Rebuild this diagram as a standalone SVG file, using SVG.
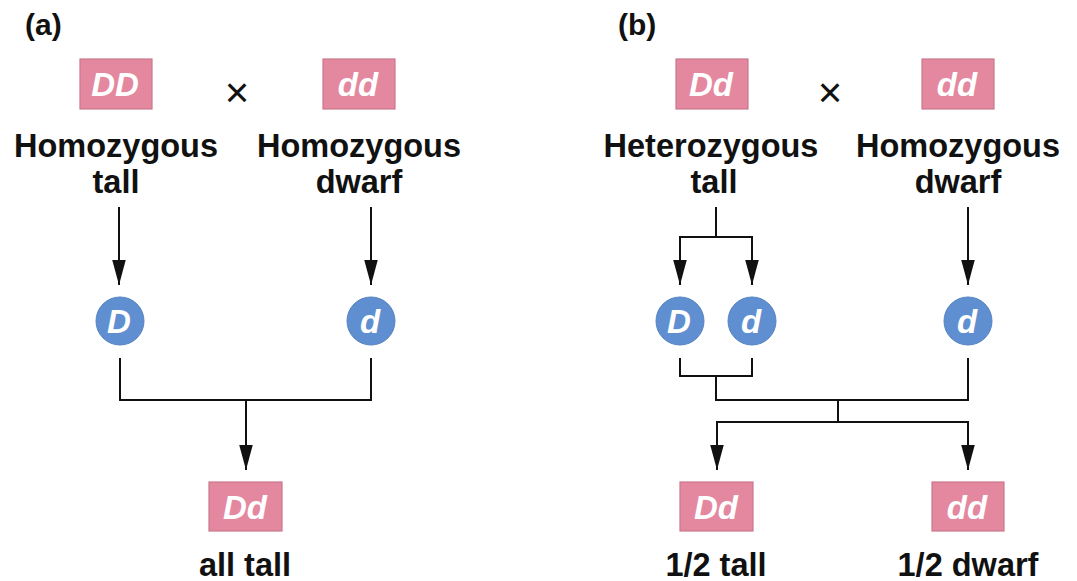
<svg xmlns="http://www.w3.org/2000/svg" width="1077" height="581" viewBox="0 0 1077 581">
  <style>
    .geno { fill: #e4889f; stroke: #c9788c; stroke-width: 1.2; }
    .allele { fill: #5f8fd0; stroke: #5583c2; stroke-width: 1; }
    .gtxt { font-family: "Liberation Sans", Arial, sans-serif; font-weight: bold; font-style: italic; font-size: 33px; fill: #ffffff; text-anchor: middle; }
    .label { font-family: "Liberation Sans", Arial, sans-serif; font-weight: bold; font-size: 32.5px; fill: #111111; text-anchor: middle; }
    .panel { font-family: "Liberation Sans", Arial, sans-serif; font-weight: bold; font-size: 30px; fill: #111111; }
    .cross { font-family: "Liberation Sans", Arial, sans-serif; font-size: 42px; fill: #111111; text-anchor: middle; }
    .wire { fill: none; stroke: #111111; stroke-width: 2; }
  </style>
  <defs>
    <marker id="head" markerUnits="userSpaceOnUse" markerWidth="26" markerHeight="16" viewBox="0 -7 25 14" refX="24" refY="0" orient="auto">
      <path d="M0,-6.5 L24,0 L0,6.5 z" fill="#111111"/>
    </marker>
  </defs>

  <rect width="1077" height="581" fill="#ffffff"/>

  <!-- panel (a) -->
  <text class="panel" x="25" y="35">(a)</text>
  <g id="a-parent1">
    <rect class="geno" x="80" y="59" width="72" height="50"/>
    <text class="gtxt" x="115" y="96">DD</text>
    <text class="label" x="116" y="157">Homozygous</text>
    <text class="label" x="116" y="193">tall</text>
  </g>
  <text class="cross" x="237" y="107">×</text>
  <g id="a-parent2">
    <rect class="geno" x="323" y="59" width="72" height="50"/>
    <text class="gtxt" x="358" y="96">dd</text>
    <text class="label" x="359" y="157">Homozygous</text>
    <text class="label" x="359" y="193">dwarf</text>
  </g>
  <g id="a-gamete-D">
    <circle class="allele" cx="120" cy="321" r="24"/>
    <text class="gtxt" x="119" y="333">D</text>
  </g>
  <g id="a-gamete-d">
    <circle class="allele" cx="371" cy="321" r="24"/>
    <text class="gtxt" x="370" y="333">d</text>
  </g>
  <g id="a-offspring">
    <rect class="geno" x="209" y="482" width="73" height="49"/>
    <text class="gtxt" x="245" y="519">Dd</text>
    <text class="label" x="245" y="576">all tall</text>
  </g>

  <!-- panel (b) -->
  <text class="panel" x="618" y="35">(b)</text>
  <g id="b-parent1">
    <rect class="geno" x="676" y="59" width="72" height="50"/>
    <text class="gtxt" x="711" y="96">Dd</text>
    <text class="label" x="711" y="157">Heterozygous</text>
    <text class="label" x="714" y="193">tall</text>
  </g>
  <text class="cross" x="830" y="107">×</text>
  <g id="b-parent2">
    <rect class="geno" x="922" y="59" width="72" height="50"/>
    <text class="gtxt" x="957" y="96">dd</text>
    <text class="label" x="958" y="157">Homozygous</text>
    <text class="label" x="958" y="193">dwarf</text>
  </g>
  <g id="b-gamete-D">
    <circle class="allele" cx="680" cy="321" r="24"/>
    <text class="gtxt" x="679" y="333">D</text>
  </g>
  <g id="b-gamete-d1">
    <circle class="allele" cx="752" cy="321" r="24"/>
    <text class="gtxt" x="751" y="333">d</text>
  </g>
  <g id="b-gamete-d2">
    <circle class="allele" cx="968" cy="321" r="24"/>
    <text class="gtxt" x="967" y="333">d</text>
  </g>
  <g id="b-offspring1">
    <rect class="geno" x="680" y="482" width="73" height="49"/>
    <text class="gtxt" x="716" y="519">Dd</text>
    <text class="label" x="716" y="576">1/2 tall</text>
  </g>
  <g id="b-offspring2">
    <rect class="geno" x="932" y="482" width="72" height="49"/>
    <text class="gtxt" x="967" y="519">dd</text>
    <text class="label" x="968" y="576">1/2 dwarf</text>
  </g>

  <g id="connectors">
    <!-- (a) parents to gametes -->
    <path class="wire" d="M119,207 V285" marker-end="url(#head)"/>
    <path class="wire" d="M371,207 V285" marker-end="url(#head)"/>
    <!-- (a) gametes join -->
    <path class="wire" d="M120,358 V400 H371 V358"/>
    <path class="wire" d="M246,400 V470" marker-end="url(#head)"/>

    <!-- (b) heterozygote splits into two gametes -->
    <path class="wire" d="M716,207 V237"/>
    <path class="wire" d="M716,237 H680 V285" marker-end="url(#head)"/>
    <path class="wire" d="M716,237 H752 V285" marker-end="url(#head)"/>
    <path class="wire" d="M968,207 V285" marker-end="url(#head)"/>
    <!-- (b) gametes combine -->
    <path class="wire" d="M680,358 V376 H752 V358"/>
    <path class="wire" d="M716,376 V400 H968 V358"/>
    <path class="wire" d="M838,400 V422"/>
    <path class="wire" d="M838,422 H717 V470" marker-end="url(#head)"/>
    <path class="wire" d="M838,422 H968 V470" marker-end="url(#head)"/>
  </g>
</svg>
